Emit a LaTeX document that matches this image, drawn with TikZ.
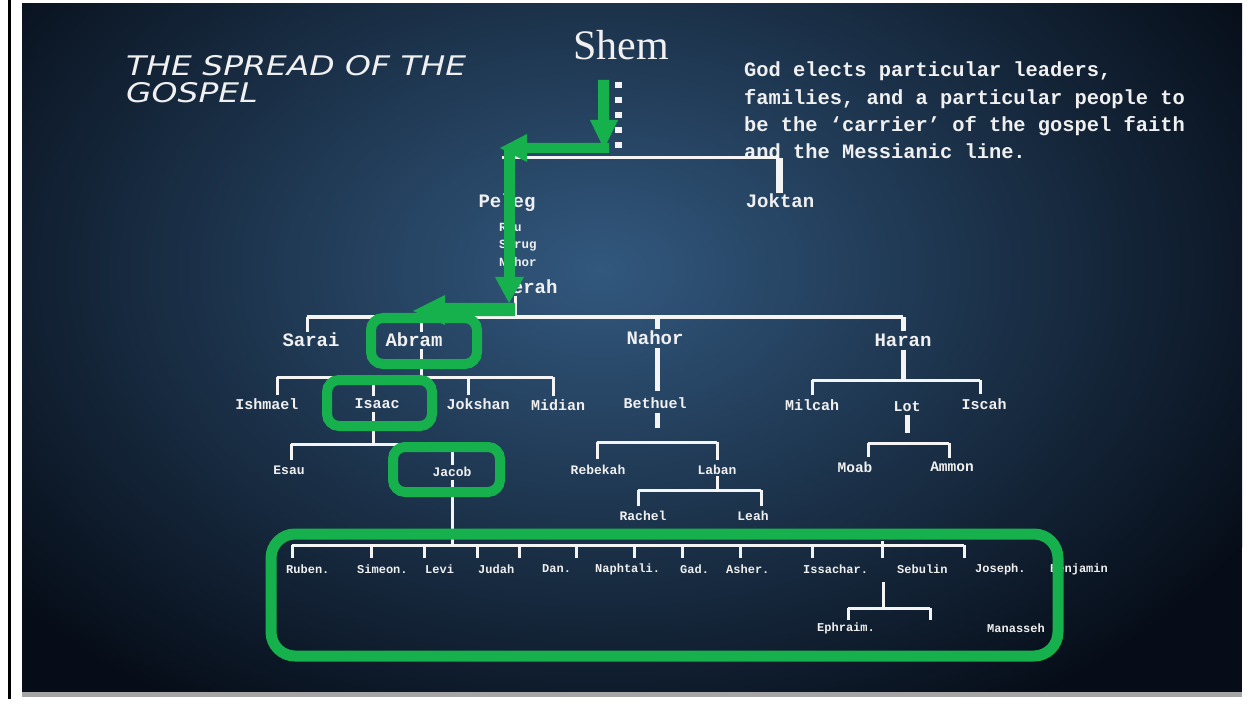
\documentclass[tikz,border=0pt]{standalone}
\usepackage{fontspec}
\setmainfont{Liberation Serif}
\newfontfamily\monof{Liberation Mono}
\newfontfamily\titlef[FakeStretch=1.22]{DejaVu Sans}
\definecolor{bgin}{RGB}{50,88,126}
\definecolor{bgout}{RGB}{6,13,24}
\definecolor{txt}{RGB}{240,240,240}
\definecolor{linec}{RGB}{244,244,244}
\definecolor{grn}{RGB}{22,176,76}
\definecolor{barg}{RGB}{165,165,165}
\tikzset{
  wl/.style={draw=linec, line width=3pt},
  wthick/.style={draw=linec, line width=5pt},
  gbox/.style={draw=grn, line width=10pt, rounded corners=12pt},
  garrow/.style={fill=grn, draw=none},
  nmbig/.style={text=txt, inner sep=0pt, font=\monof\bfseries\fontsize{19}{19}\selectfont},
  nmmid/.style={text=txt, inner sep=0pt, font=\monof\bfseries\fontsize{15}{15}\selectfont},
  nmsm/.style={text=txt, inner sep=0pt, font=\monof\bfseries\fontsize{13}{13}\selectfont},
  nmson/.style={text=txt, inner sep=0pt, anchor=west, font=\monof\bfseries\fontsize{12}{12}\selectfont},
  nmline/.style={text=txt, inner sep=0pt, anchor=west, font=\monof\bfseries\fontsize{12.5}{12.5}\selectfont},
}
\begin{document}
\begin{tikzpicture}[x=1pt,y=-1pt]
\useasboundingbox (0,0) rectangle (1249,708);
\fill[white] (0,0) rectangle (1249,708);
% slide background
\begin{scope}
  \clip (22,4) rectangle (1242,692);
  \fill[bgout] (22,4) rectangle (1242,692);
  \shade[inner color=bgin, outer color=bgout] (600,270) ellipse (760 and 520);
\end{scope}
\fill[barg] (22,692) rectangle (1242,697);
\draw[black, line width=3pt] (9,0) -- (9,699);

% title and note
\node[anchor=north west, align=left, text=txt, inner sep=0pt,
      font=\titlef\itshape\fontsize{27}{27}\selectfont] (title) at (126,55)
  {THE SPREAD OF THE\\GOSPEL};
\node[text=txt, inner sep=0pt, font=\fontsize{42}{42}\selectfont] (shem) at (621,45) {Shem};
\node[anchor=north west, align=left, text=txt, inner sep=0pt,
      font=\monof\bfseries\fontsize{20.4}{27.2}\selectfont] (note) at (744,62)
  {God elects particular leaders,\\families, and a particular people to\\be the ‘carrier’ of the gospel faith\\and the Messianic line.};

% names
\node[nmbig] (peleg) at (507,203) {Peleg};
\node[nmline] (reu) at (499,227) {Reu};
\node[nmline] (serug) at (499,246) {Serug};
\node[nmline] (nahors) at (499,262) {Nahor};
\node[nmbig] (terah) at (529,287) {Terah};
\node[nmbig] (joktan) at (780,201) {Joktan};
\node[nmbig] (sarai) at (311,340) {Sarai};
\node[nmbig] (abram) at (414,340) {Abram};
\node[nmbig] (nahor) at (655,338) {Nahor};
\node[nmbig] (haran) at (903,340) {Haran};
\node[nmmid] (ishmael) at (267,404) {Ishmael};
\node[nmmid] (isaac) at (377,404) {Isaac};
\node[nmmid] (jokshan) at (478,404) {Jokshan};
\node[nmmid] (midian) at (558,405) {Midian};
\node[nmmid] (bethuel) at (655,403) {Bethuel};
\node[nmmid] (milcah) at (812,405) {Milcah};
\node[nmmid] (lot) at (907,407) {Lot};
\node[nmmid] (iscah) at (984,404) {Iscah};
\node[nmsm] (esau) at (289,470) {Esau};
\node[nmsm] (jacob) at (452,472) {Jacob};
\node[nmsm] (rebekah) at (598,470) {Rebekah};
\node[nmsm] (laban) at (717,470) {Laban};
\node[nmsm] (rachel) at (643,516) {Rachel};
\node[nmsm] (leah) at (753,516) {Leah};
\node[nmsm, font=\monof\bfseries\fontsize{14.5}{14.5}\selectfont] (moab) at (855,467) {Moab};
\node[nmsm, font=\monof\bfseries\fontsize{14.5}{14.5}\selectfont] (ammon) at (952,467) {Ammon};
\node[nmson] (ruben) at (286,569) {Ruben.};
\node[nmson] (simeon) at (357,569) {Simeon.};
\node[nmson] (levi) at (425,569) {Levi};
\node[nmson] (judah) at (478,569) {Judah};
\node[nmson] (dan) at (542,569) {Dan.};
\node[nmson] (naphtali) at (595,569) {Naphtali.};
\node[nmson] (gad) at (680,569) {Gad.};
\node[nmson] (asher) at (726,569) {Asher.};
\node[nmson] (issachar) at (803,569) {Issachar.};
\node[nmson] (sebulin) at (897,569) {Sebulin};
\node[nmson] (joseph) at (975,569) {Joseph.};
\node[nmson] (benjamin) at (1050,569) {Benjamin};
\node[nmson] (ephraim) at (817,628) {Ephraim.};
\node[nmson] (manasseh) at (987,628) {Manasseh};

% Shem line
\coordinate (sd) at (618,82);
\coordinate (sj) at (618,158);
\draw[draw=linec, line width=7pt, dash pattern=on 6.5pt off 8.5pt] (sd) -- (sj);
\coordinate (sbl) at (502,158);
\coordinate (sbr) at (779,158);
\draw[wl] (sbl) -- (sbr);
\draw[draw=linec, line width=7pt] (sbr) -- ([yshift=1pt]sbr |- joktan.north);
\draw[wl] (peleg.north |- sbl) -- (peleg.north);

% Terah children
\coordinate (tj) at (515,317);
\draw[wl] ([yshift=-2pt]terah.south -| tj) -- (tj);
\coordinate (tdsarai) at (307,317);
\coordinate (tdabram) at (421,317);
\coordinate (tdnahor) at (657,317);
\coordinate (tdharan) at (903,317);
\draw[wl] (tdsarai) -- (tdharan);
\draw[wl] (tdsarai) -- ([yshift=1pt]tdsarai |- sarai.north);
\draw[wl] (tdabram) -- ([yshift=1pt]tdabram |- abram.north);
\draw[wthick] (tdnahor) -- ([yshift=2pt]tdnahor |- nahor.north);
\draw[wthick] (tdharan) -- ([yshift=2pt]tdharan |- haran.north);

% Abram children
\coordinate (aj) at (421,377);
\draw[wl] ([yshift=-2pt]aj |- abram.south) -- (aj);
\coordinate (adish) at (277,377);
\coordinate (adis) at (373,377);
\coordinate (adjok) at (468,377);
\coordinate (admid) at (553,377);
\draw[wl] (adish) -- (admid);
\draw[wl] (adish) -- ([yshift=3pt]adish |- ishmael.north);
\draw[wl] (adis) -- ([yshift=3pt]adis |- isaac.north);
\draw[wl] (adjok) -- ([yshift=3pt]adjok |- jokshan.north);
\draw[wl] (admid) -- ([yshift=3pt]admid |- midian.north);

% Isaac children
\coordinate (ij) at (373,444);
\draw[wl] ([yshift=-3pt]ij |- isaac.south) -- (ij);
\coordinate (idesau) at (291,444);
\coordinate (idjacob) at (452,444);
\draw[wl] (idesau) -- (idjacob);
\draw[wl] (idesau) -- ([yshift=5pt]idesau |- esau.north);
\draw[wl] (idjacob) -- ([yshift=2pt]idjacob |- jacob.north);

% Jacob children
\coordinate (jj) at (452,545);
\draw[wl] ([yshift=-3pt]jj |- jacob.south) -- (jj);
\coordinate (sl) at (292,545);
\coordinate (sr) at (964,545);
\draw[wl] (sl) -- (sr);
\foreach \tx in {292,371,424,477,519,576,634,682,740,812,964}
  \draw[wl] (\tx,545) -- (\tx,558);
\draw[wl] (882,541) -- (882,558);

% Joseph children
\coordinate (josj) at (883,608);
\draw[wl] (883,582) -- (josj);
\coordinate (jdl) at (848,608);
\coordinate (jdr) at (930,608);
\draw[wl] (jdl) -- (jdr);
\draw[wl] (jdl) -- ([yshift=2pt]jdl |- ephraim.north);
\draw[wl] (jdr) -- (930,620);

% Nahor line
\coordinate (bj) at (657,442);
\draw[wthick] ([yshift=-3pt]bj |- nahor.south) -- ([yshift=6pt]bj |- bethuel.north);
\draw[wthick] ([yshift=-4pt]bj |- bethuel.south) -- ([yshift=14pt]bj);
\coordinate (bdreb) at (597,442);
\coordinate (bdlab) at (717,442);
\draw[wl] (bdreb) -- (bdlab);
\draw[wl] (bdreb) -- ([yshift=6pt]bdreb |- rebekah.north);
\draw[wl] (bdlab) -- ([yshift=5pt]bdlab |- laban.north);
\coordinate (lj) at (717,490);
\draw[wl] ([yshift=-1pt]lj |- laban.south) -- (lj);
\coordinate (ldrac) at (638,490);
\coordinate (ldlea) at (761,490);
\draw[wl] (ldrac) -- (ldlea);
\draw[wl] (ldrac) -- ([yshift=5pt]ldrac |- rachel.north);
\draw[wl] (ldlea) -- ([yshift=5pt]ldlea |- leah.north);

% Haran line
\coordinate (hj) at (903,380);
\draw[wthick] ([yshift=-3pt]hj |- haran.south) -- (hj);
\coordinate (hdmil) at (812,380);
\coordinate (hdisc) at (980,380);
\draw[wl] (hdmil) -- (hdisc);
\draw[wl] (hdmil) -- ([yshift=4pt]hdmil |- milcah.north);
\draw[wl] (hdisc) -- ([yshift=4pt]hdisc |- iscah.north);
\coordinate (lotj) at (907,443);
\draw[wthick] ([yshift=-3pt]lotj |- lot.south) -- ([yshift=10pt]lotj);
\coordinate (lmoab) at (868,443);
\coordinate (lammon) at (949,443);
\draw[wl] (lmoab) -- (lammon);
\draw[wl] (lmoab) -- ([yshift=4pt]lmoab |- moab.north);
\draw[wl] (lammon) -- ([yshift=4pt]lammon |- ammon.north);

% green highlight boxes
\draw[gbox] (371,318) rectangle (477,364);
\draw[gbox] (327,380) rectangle (432,426);
\draw[gbox] (393,447) rectangle (500,492);
\draw[gbox, line width=11pt, rounded corners=24pt] (271,534) rectangle (1058,656);

% green arrows
\fill[garrow] (598,80) -- (609,80) -- (609,120) -- (618,120) -- (604,149) -- (590,120) -- (598,120) -- cycle;
\fill[garrow] (609,143) -- (527,143) -- (527,134) -- (500,148) -- (527,162) -- (527,153) -- (609,153) -- cycle;
\fill[garrow] (504,148) -- (515,148) -- (515,277) -- (524,277) -- (509,303) -- (495,277) -- (504,277) -- cycle;
\fill[garrow] (515,303) -- (445,303) -- (445,295) -- (413,311) -- (445,325) -- (445,316) -- (515,316) -- cycle;
\end{tikzpicture}
\end{document}
